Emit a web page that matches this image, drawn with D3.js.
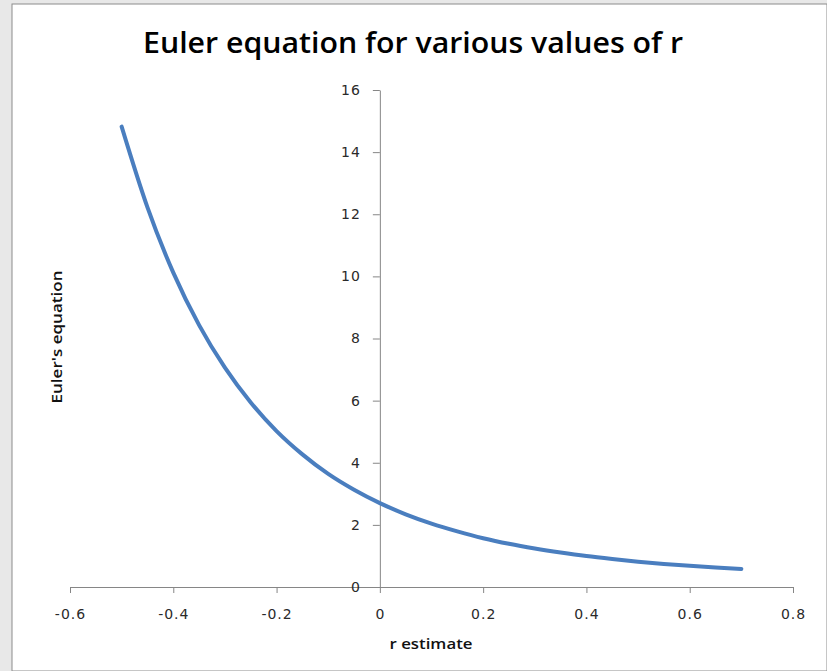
<!DOCTYPE html>
<html>
<head>
<meta charset="utf-8">
<script src="https://cdn.jsdelivr.net/npm/d3@7"></script>
<style>
  body { margin: 0; background: #e8e8e8; }
  svg { display: block; }
</style>
</head>
<body>
<div id="chart"></div>
<script>
// r estimate vs value of Euler's equation
var rValues = [-0.5, -0.45, -0.4, -0.35, -0.3, -0.25, -0.2, -0.15, -0.1, -0.05, 0,
  0.05, 0.1, 0.15, 0.2, 0.25, 0.3, 0.35, 0.4, 0.45, 0.5, 0.55, 0.6, 0.65, 0.7];
var eulerValues = [14.82, 12.22, 10.12, 8.43, 7.06, 5.94, 5.02, 4.27, 3.64, 3.13, 2.70,
  2.34, 2.04, 1.79, 1.57, 1.39, 1.24, 1.11, 0.995, 0.90, 0.815, 0.744, 0.682, 0.629, 0.582];

var xTicks = [-0.6, -0.4, -0.2, 0, 0.2, 0.4, 0.6, 0.8];
var yTicks = [0, 2, 4, 6, 8, 10, 12, 14, 16];

var width = 827, height = 671;

var svg = d3.select("#chart").append("svg")
  .attr("width", width)
  .attr("height", height);

// grey backdrop and white chart sheet
svg.append("rect").attr("width", width).attr("height", height).attr("fill", "#e8e8e8");
svg.append("rect")
  .attr("x", 12).attr("y", 4)
  .attr("width", width - 12).attr("height", height - 4)
  .attr("fill", "#ffffff")
  .attr("stroke", "#8c8c8c")
  .attr("stroke-width", 1);

var x = d3.scaleLinear().domain([-0.6, 0.8]).range([70, 793]);
var y = d3.scaleLinear().domain([0, 16]).range([587, 90]);

var fmt = function(d) { return String(+d.toFixed(1)); };

var xAxis = svg.append("g")
  .attr("transform", "translate(0," + y(0) + ")")
  .call(d3.axisBottom(x).tickValues(xTicks).tickSize(6).tickSizeOuter(0).tickPadding(16).tickFormat(fmt));

var yAxis = svg.append("g")
  .attr("transform", "translate(" + x(0) + ",0)")
  .call(d3.axisLeft(y).tickValues(yTicks).tickSize(7).tickSizeOuter(0).tickPadding(12).tickFormat(fmt));

[xAxis, yAxis].forEach(function(ax) {
  ax.select(".domain").attr("stroke", "#868686");
  ax.selectAll(".tick line").attr("stroke", "#868686");
  ax.selectAll(".tick text")
    .attr("fill", "#2a2a2a")
    .style("font-family", "DejaVu Sans")
    .style("font-size", "14px")
    .style("letter-spacing", "1px");
});

var line = d3.line()
  .x(function(d, i) { return x(rValues[i]); })
  .y(function(d) { return y(d); })
  .curve(d3.curveMonotoneX);

svg.append("path")
  .datum(eulerValues)
  .attr("d", line)
  .attr("fill", "none")
  .attr("stroke", "#4a7ebf")
  .attr("stroke-width", 4)
  .attr("stroke-linecap", "round");

svg.append("text")
  .attr("x", 413).attr("y", 53)
  .attr("text-anchor", "middle")
  .attr("textLength", 540)
  .attr("lengthAdjust", "spacingAndGlyphs")
  .style("font-family", "Open Sans")
  .style("font-weight", "600")
  .style("font-size", "28px")
  .attr("fill", "#000")
  .text("Euler equation for various values of r");

svg.append("text")
  .attr("x", 431).attr("y", 649)
  .attr("text-anchor", "middle")
  .attr("textLength", 83)
  .attr("lengthAdjust", "spacingAndGlyphs")
  .style("font-family", "Open Sans")
  .style("font-weight", "600")
  .style("font-size", "14px")
  .attr("fill", "#111")
  .text("r estimate");

svg.append("text")
  .attr("transform", "translate(62,337) rotate(-90)")
  .attr("text-anchor", "middle")
  .attr("textLength", 133)
  .attr("lengthAdjust", "spacingAndGlyphs")
  .style("font-family", "Open Sans")
  .style("font-weight", "600")
  .style("font-size", "14px")
  .attr("fill", "#111")
  .text("Euler's equation");
</script>
</body>
</html>
